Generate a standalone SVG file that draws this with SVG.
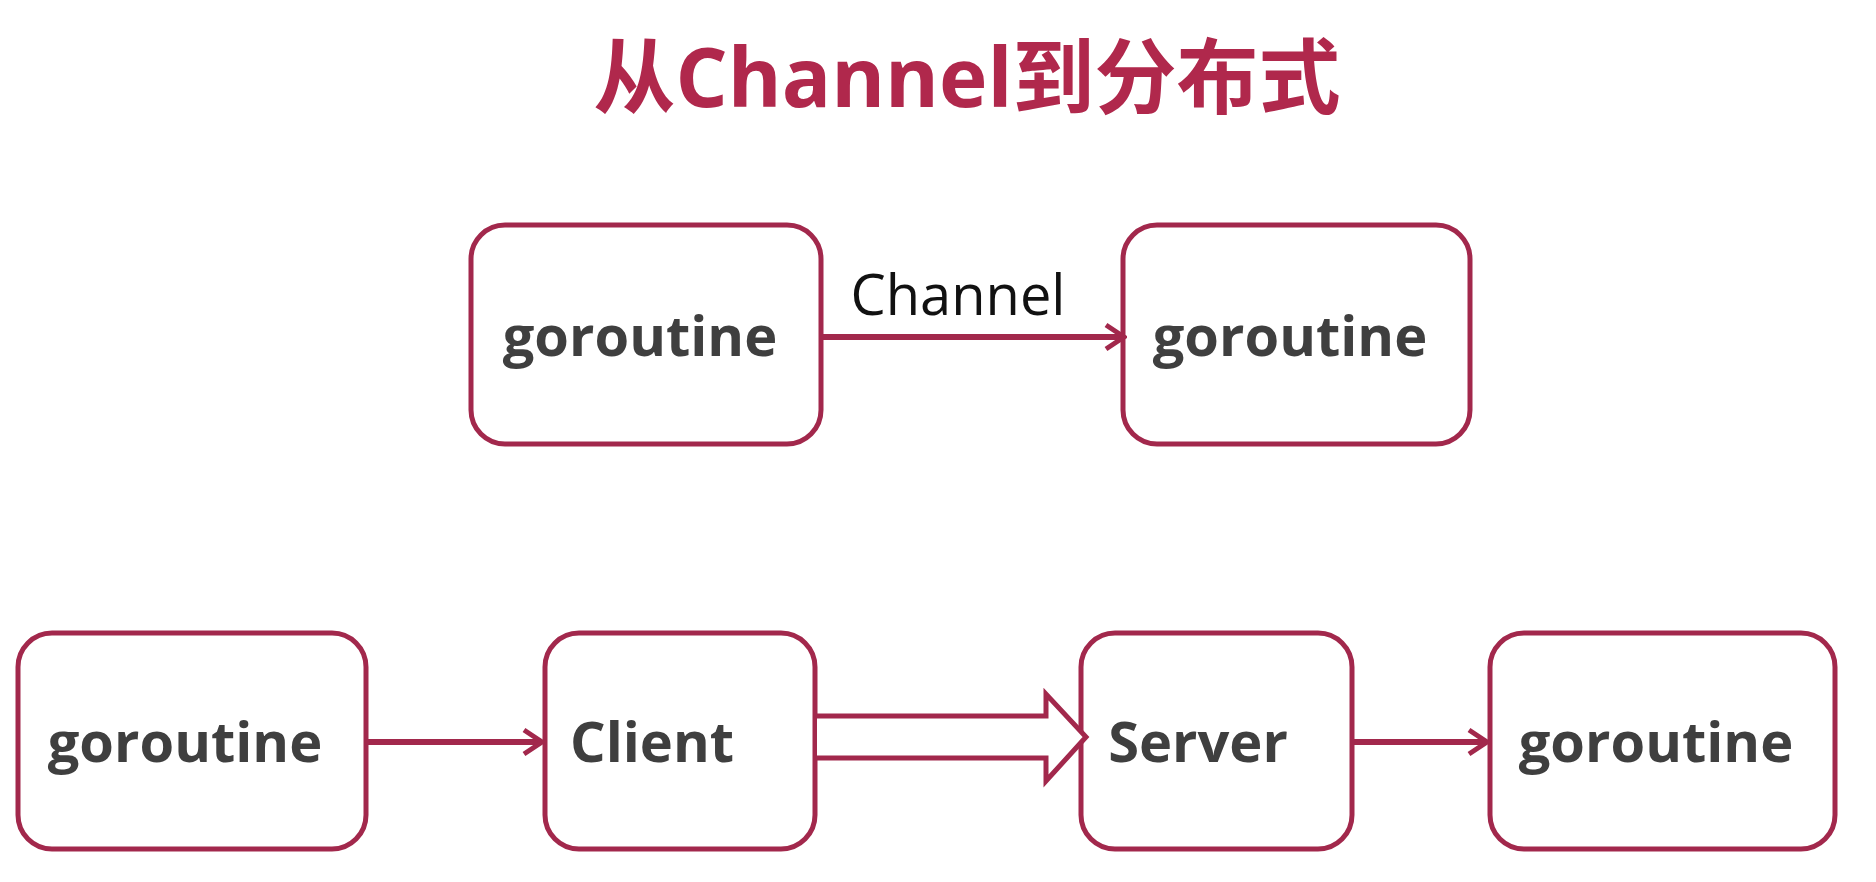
<svg xmlns="http://www.w3.org/2000/svg" width="1876" height="882" viewBox="0 0 1876 882">
<defs>
<style>
.box{fill:#ffffff;stroke:#a2284c;stroke-width:5}
.lbl{font-family:"Open Sans","Noto Sans",sans-serif;font-weight:700;font-size:56px;fill:#3f3f3f;text-anchor:middle}
.conn{stroke:#a2284c;stroke-width:6;fill:none}
</style>
<marker id="chev" viewBox="-21 -16 24 32" refX="0" refY="0" markerWidth="24" markerHeight="32" orient="auto" markerUnits="userSpaceOnUse">
<path d="M-18,-12 L0,0 L-18,12" fill="none" stroke="#a2284c" stroke-width="5" stroke-linejoin="miter"/>
</marker>
</defs>
<rect width="1876" height="882" fill="#ffffff"/>
<text x="967" y="107" text-anchor="middle" font-family="'Open Sans','Noto Sans CJK SC',sans-serif" font-weight="700" font-size="82" fill="#b0284c">从Channel到分布式</text>
<g id="n1"><rect class="box" x="471" y="225" width="350" height="219" rx="34"/><text class="lbl" x="640" y="356">goroutine</text></g>
<g id="n2"><rect class="box" x="1123" y="225" width="347" height="219" rx="34"/><text class="lbl" x="1290" y="356">goroutine</text></g>
<g id="n3"><rect class="box" x="18" y="633" width="348" height="216" rx="34"/><text class="lbl" x="185" y="762">goroutine</text></g>
<g id="n4"><rect class="box" x="545" y="633" width="270" height="216" rx="34"/><text class="lbl" x="652" y="762">Client</text></g>
<g id="n5"><rect class="box" x="1081" y="633" width="271" height="216" rx="34"/><text class="lbl" x="1198" y="762">Server</text></g>
<g id="n6"><rect class="box" x="1490" y="633" width="345" height="216" rx="34"/><text class="lbl" x="1656" y="762">goroutine</text></g>
<g id="connectors">
<line class="conn" x1="823" y1="337" x2="1124" y2="337" marker-end="url(#chev)"/>
<text x="958" y="315" text-anchor="middle" font-family="'Open Sans','Noto Sans',sans-serif" font-size="56" fill="#111111">Channel</text>
<line class="conn" x1="368" y1="742" x2="542" y2="742" marker-end="url(#chev)"/>
<line class="conn" x1="1354" y1="742" x2="1487" y2="742" marker-end="url(#chev)"/>
<polygon points="817,716 1046,716 1046,694 1086,737 1046,781 1046,758 817,758" fill="#ffffff"/>
<path class="conn" style="stroke-width:5" d="M817,716 L1046,716 L1046,694 L1086,737 L1046,781 L1046,758 L817,758" stroke-linejoin="miter"/>
</g>
</svg>
